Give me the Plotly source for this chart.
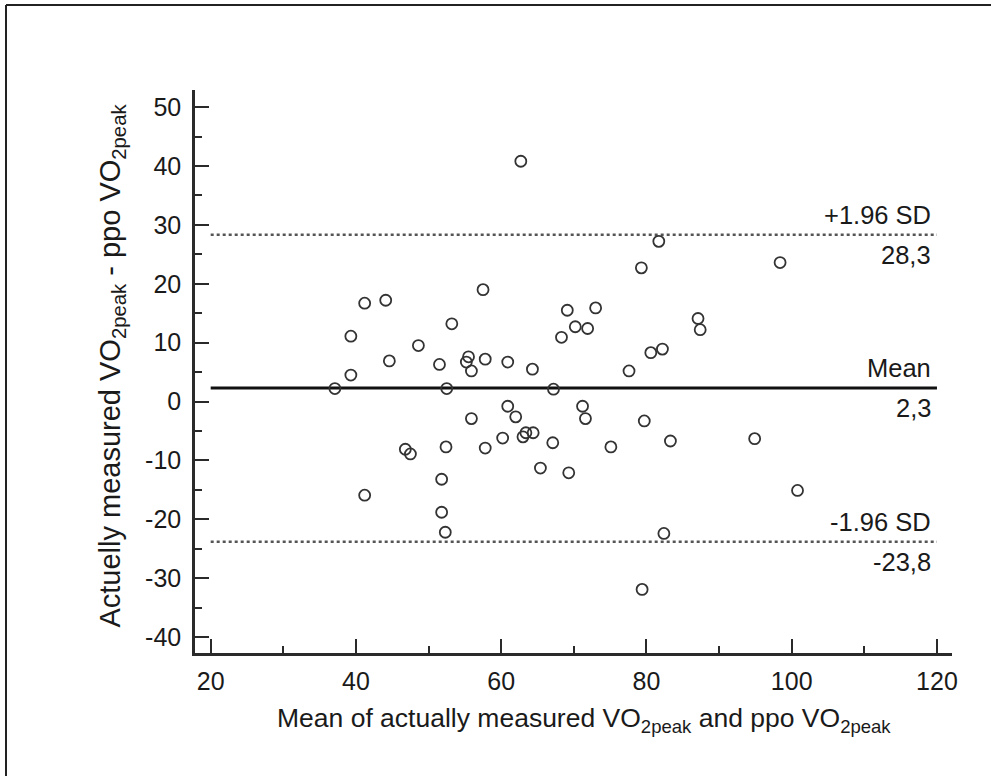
import plotly.graph_objects as go

# ---- data (Bland-Altman plot) ----
mean_vo2 = [62.7, 41.2, 44.1, 57.5, 39.3, 53.2, 48.6, 44.6, 51.5, 55.5,
            55.2, 55.9, 57.8, 60.9, 64.3, 39.3, 37.1, 52.5, 67.2, 68.3,
            69.1, 73.0, 70.2, 71.9, 81.7, 79.3, 98.4, 87.1, 87.4, 80.6,
            82.2, 77.6, 60.9, 62.0, 55.9, 63.4, 64.4, 63.0, 60.2, 67.1,
            57.8, 52.4, 46.8, 47.5, 65.4, 69.3, 51.8, 41.2, 51.8, 52.3,
            71.2, 71.6, 79.7, 83.3, 94.9, 75.1, 100.8, 82.4, 79.4]
diff_vo2 = [40.8, 16.7, 17.2, 19.0, 11.1, 13.2, 9.5, 6.9, 6.3, 7.6,
            6.7, 5.2, 7.2, 6.7, 5.5, 4.5, 2.2, 2.2, 2.1, 10.9,
            15.5, 15.9, 12.7, 12.4, 27.2, 22.7, 23.6, 14.1, 12.2, 8.3,
            8.9, 5.2, -0.8, -2.6, -2.9, -5.3, -5.3, -6.0, -6.2, -7.0,
            -7.9, -7.7, -8.1, -8.9, -11.3, -12.1, -13.2, -15.9, -18.8, -22.2,
            -0.8, -2.9, -3.3, -6.7, -6.3, -7.7, -15.1, -22.4, -31.9]

line_names = ["+1.96 SD", "Mean", "-1.96 SD"]
line_values = [28.3, 2.3, -23.8]
line_labels = ["28,3", "2,3", "-23,8"]
line_dash = ["3px,3px", "solid", "3px,3px"]
line_x = [20, 120]

x_ticks = [20, 40, 60, 80, 100, 120]
x_ticktext = ["20", "40", "60", "80", "100", "120"]
y_ticks = [-40, -30, -20, -10, 0, 10, 20, 30, 40, 50]
y_ticktext = ["-40", "-30", "-20", "-10", "0", "10", "20", "30", "40", "50"]

FONT = "Liberation Sans, Arial, sans-serif"
INK = "#1a1a1a"

fig = go.Figure()

for name, val, dash in zip(line_names, line_values, line_dash):
    fig.add_trace(go.Scatter(
        x=line_x, y=[val, val], mode="lines",
        line=dict(color="#111111" if dash == "solid" else "#555555",
                  width=3 if dash == "solid" else 2.5, dash=dash),
        hoverinfo="skip", showlegend=False))

fig.add_trace(go.Scatter(
    x=mean_vo2, y=diff_vo2, mode="markers",
    marker=dict(symbol="circle-open", size=11, color="#333333",
                line=dict(width=1.8, color="#333333")),
    showlegend=False))

annotations = []
for name, val, lab in zip(line_names, line_values, line_labels):
    annotations.append(dict(x=line_x[1], y=val, xref="x", yref="y",
                            text=name, showarrow=False, xanchor="right",
                            yanchor="bottom", xshift=-4, yshift=4,
                            font=dict(family=FONT, size=25.5, color=INK)))
    annotations.append(dict(x=line_x[1], y=val, xref="x", yref="y",
                            text=lab, showarrow=False, xanchor="right",
                            yanchor="top", xshift=-4, yshift=-4,
                            font=dict(family=FONT, size=25.5, color=INK)))

# axis titles
annotations.append(dict(
    x=0.514, y=-0.085, xref="paper", yref="paper",
    text="Mean of actually measured VO<sub>2peak</sub> and ppo VO<sub>2peak</sub>",
    showarrow=False, xanchor="center", yanchor="top",
    font=dict(family=FONT, size=26.5, color=INK)))
annotations.append(dict(
    x=-0.11, y=0.51, xref="paper", yref="paper",
    text="Actuelly measured VO<sub>2peak</sub> - ppo VO<sub>2peak</sub>",
    showarrow=False, xanchor="center", yanchor="middle", textangle=-90,
    font=dict(family=FONT, size=29, color=INK)))

L, R, T, B = 195, 39, 90, 123
W, H = 991, 776
pw, ph = W - L - R, H - T - B
def px2paper_x(px):
    return (px - L) / pw
def py2paper_y(py):
    return (H - B - py) / ph

shapes = [
    dict(type="line", xref="paper", yref="paper",
         x0=px2paper_x(6), x1=px2paper_x(991), y0=py2paper_y(5), y1=py2paper_y(5),
         line=dict(color="#222222", width=2)),
    dict(type="line", xref="paper", yref="paper",
         x0=px2paper_x(6), x1=px2paper_x(6), y0=py2paper_y(5), y1=py2paper_y(776),
         line=dict(color="#222222", width=2)),
]

axis_common = dict(
    showline=True, linewidth=2.5, linecolor="#2a2a2a",
    showgrid=False, zeroline=False,
    ticks="inside", ticklen=14, tickwidth=2, tickcolor="#2a2a2a",
    tickfont=dict(family=FONT, size=25, color=INK),
)

fig.update_layout(
    width=W, height=H,
    margin=dict(l=L, r=R, t=T, b=B, pad=0),
    paper_bgcolor="white", plot_bgcolor="white",
    xaxis=dict(range=[17.84, 122.07], tickmode="array", tickvals=x_ticks,
               ticktext=x_ticktext,
               minor=dict(ticks="inside", ticklen=7, tickwidth=2,
                          tickcolor="#2a2a2a", dtick=10, tick0=0),
               ticklabelstandoff=4, **axis_common),
    yaxis=dict(range=[-42.7, 52.9], tickmode="array", tickvals=y_ticks,
               ticktext=y_ticktext,
               minor=dict(ticks="inside", ticklen=7, tickwidth=2,
                          tickcolor="#2a2a2a", dtick=5, tick0=0),
               ticklabelstandoff=6, **axis_common),
    annotations=annotations,
    shapes=shapes,
)

fig.write_html("out.html")
